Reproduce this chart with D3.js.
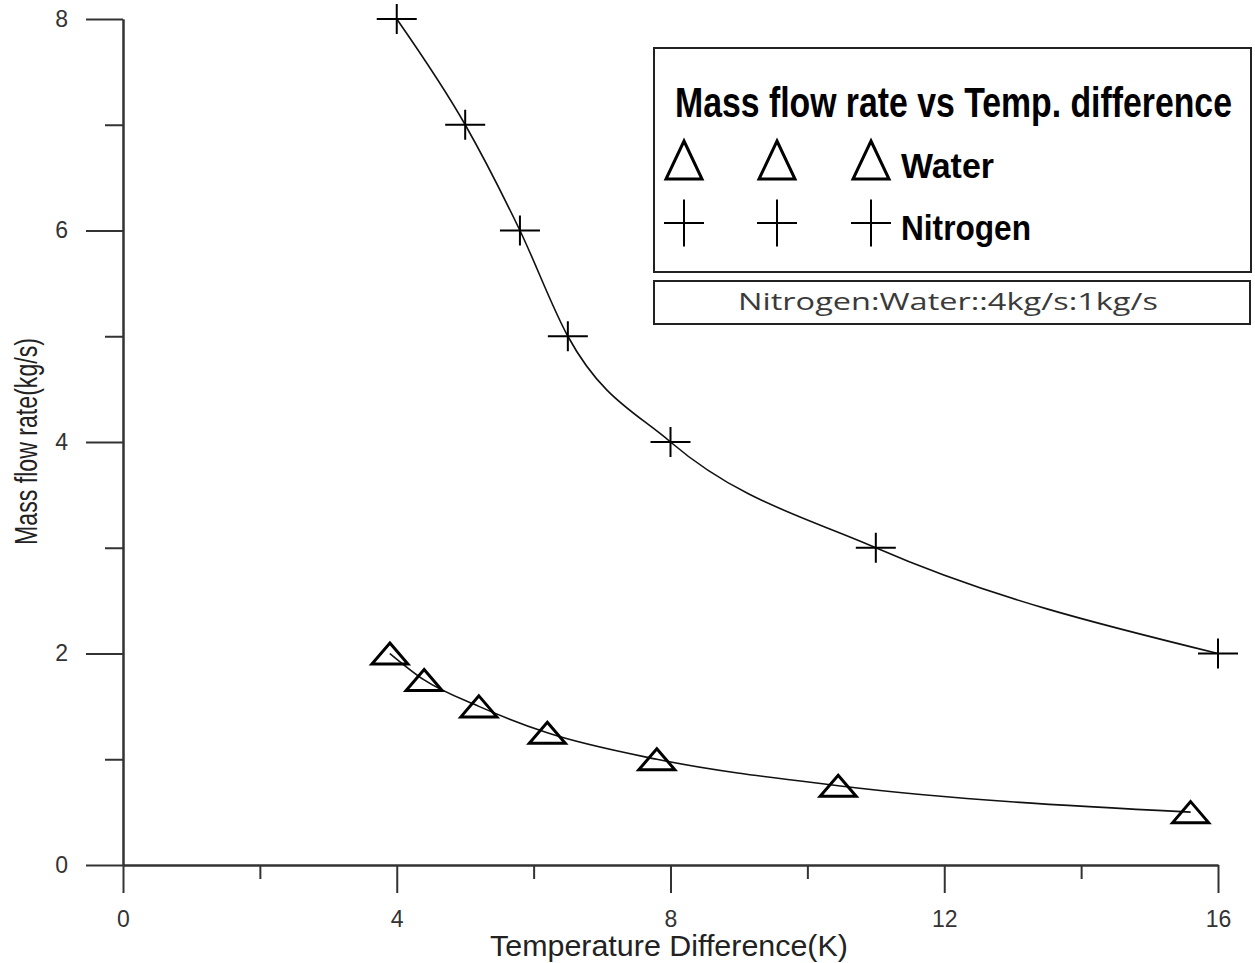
<!DOCTYPE html>
<html>
<head>
<meta charset="utf-8">
<script src="https://cdn.jsdelivr.net/npm/d3@7"></script>
<style>
  body { margin: 0; background: #fff; }
  svg { display: block; }
  .axis path, .axis line { stroke: #333; stroke-width: 2; }
  .axis text { font-family: "Liberation Sans", Arial, sans-serif; font-size: 23px; fill: #333; }
</style>
</head>
<body>
<div id="chart"></div>
<script>
// data
const waterX = [3.9, 4.4, 5.2, 6.2, 7.8, 10.45, 15.6];
const waterY = [2.0, 1.75, 1.5, 1.25, 1.0, 0.75, 0.5];
const nitrogenX = [4, 5, 5.8, 6.5, 8, 11, 16];
const nitrogenY = [8, 7, 6, 5, 4, 3, 2];
const xMajor = [0, 4, 8, 12, 16];
const xMinor = [2, 6, 10, 14];
const yMajor = [0, 2, 4, 6, 8];
const yMinor = [1, 3, 5, 7];
const legendTitle = "Mass flow rate vs Temp. difference";
const seriesNames = ["Water", "Nitrogen"];
const ratioNote = "Nitrogen:Water::4kg/s:1kg/s";

const W = 1255, H = 963;
const svg = d3.select("#chart").append("svg")
    .attr("width", W)
    .attr("height", H);

const x = d3.scaleLinear().domain([0, 16]).range([123, 1218]);
const y = d3.scaleLinear().domain([0, 8]).range([865, 19]);

// squeeze a text to a given width with a horizontal scale
function fitText(sel, x0, y0, width) {
  const w = sel.node().getComputedTextLength();
  sel.attr("transform", `translate(${x0},${y0}) scale(${width / w},1)`);
  return sel;
}

// axes
svg.append("g")
    .attr("class", "axis")
    .attr("transform", "translate(0,865)")
    .call(d3.axisBottom(x).tickValues(xMinor).tickSize(14).tickSizeOuter(0).tickFormat(""));
svg.append("g")
    .attr("class", "axis")
    .attr("transform", "translate(0,865)")
    .call(d3.axisBottom(x).tickValues(xMajor).tickSize(28).tickSizeOuter(0).tickPadding(18));

svg.append("g")
    .attr("class", "axis")
    .attr("transform", "translate(123,0)")
    .call(d3.axisLeft(y).tickValues(yMinor).tickSize(18).tickSizeOuter(0).tickFormat(""));
svg.append("g")
    .attr("class", "axis")
    .attr("transform", "translate(123,0)")
    .call(d3.axisLeft(y).tickValues(yMajor).tickSize(37).tickSizeOuter(0).tickPadding(18));

// axis titles
const xTitle = svg.append("text")
    .style("font-family", "Liberation Sans, Arial, sans-serif")
    .style("font-size", "29px")
    .style("fill", "#222")
    .text("Temperature Difference(K)");
fitText(xTitle, 490, 956, 358);

svg.append("text")
    .attr("transform", "translate(37,545) rotate(-90)")
    .attr("textLength", 207)
    .attr("lengthAdjust", "spacingAndGlyphs")
    .style("font-family", "Liberation Sans, Arial, sans-serif")
    .style("font-size", "31px")
    .style("fill", "#222")
    .text("Mass flow rate(kg/s)");

// curves
const water = waterX.map((v, i) => ({x: v, y: waterY[i]}));
const nitrogen = nitrogenX.map((v, i) => ({x: v, y: nitrogenY[i]}));

const line = d3.line()
    .x(d => x(d.x))
    .y(d => y(d.y))
    .curve(d3.curveMonotoneX);

[water, nitrogen].forEach(s => {
  svg.append("path")
      .datum(s)
      .attr("d", line)
      .attr("fill", "none")
      .attr("stroke", "#111")
      .attr("stroke-width", 1.6);
});

// markers
const triPath = (w, h) => `M0,${-h / 2}L${w / 2},${h / 2}L${-w / 2},${h / 2}Z`;
const crossPath = (w, h) => `M${-w / 2},0H${w / 2}M0,${-h / 2}V${h / 2}`;

svg.selectAll("path.tri")
    .data(water)
    .join("path")
    .attr("class", "tri")
    .attr("transform", d => `translate(${x(d.x)},${y(d.y)})`)
    .attr("d", triPath(36, 21))
    .attr("fill", "none")
    .attr("stroke", "#000")
    .attr("stroke-width", 3)
    .attr("stroke-linejoin", "miter");

svg.selectAll("path.cross")
    .data(nitrogen)
    .join("path")
    .attr("class", "cross")
    .attr("transform", d => `translate(${x(d.x)},${y(d.y)})`)
    .attr("d", crossPath(40, 30))
    .attr("fill", "none")
    .attr("stroke", "#000")
    .attr("stroke-width", 2);

// legend
const legend = svg.append("g");
legend.append("rect")
    .attr("x", 654).attr("y", 48)
    .attr("width", 597).attr("height", 224)
    .attr("fill", "#fff").attr("stroke", "#222").attr("stroke-width", 2);

const title = legend.append("text")
    .style("font-family", "Liberation Sans Narrow, Arial Narrow, Liberation Sans, sans-serif")
    .style("font-weight", "bold")
    .style("font-size", "42px")
    .text(legendTitle);
fitText(title, 675, 117, 557);

const symX = [684, 777, 871];
symX.forEach(cx => {
  legend.append("path")
      .attr("transform", `translate(${cx},160)`)
      .attr("d", triPath(36, 38))
      .attr("fill", "none").attr("stroke", "#000").attr("stroke-width", 3);
  legend.append("path")
      .attr("transform", `translate(${cx},223)`)
      .attr("d", crossPath(40, 47))
      .attr("fill", "none").attr("stroke", "#000").attr("stroke-width", 2);
});

const nameLen = [93, 130];
seriesNames.forEach((n, i) => {
  const t = legend.append("text")
      .style("font-family", "Liberation Sans Narrow, Arial Narrow, Liberation Sans, sans-serif")
      .style("font-weight", "bold")
      .style("font-size", "35px")
      .text(n);
  fitText(t, 901, 178 + i * 62, nameLen[i]);
});

legend.append("rect")
    .attr("x", 654).attr("y", 281)
    .attr("width", 596).attr("height", 43)
    .attr("fill", "#fff").attr("stroke", "#222").attr("stroke-width", 2);

const note = legend.append("text")
    .style("font-family", "Open Sans, Noto Sans, sans-serif")
    .style("font-size", "24px")
    .style("fill", "#3a3a3a")
    .text(ratioNote);
fitText(note, 738, 310, 420);
</script>
</body>
</html>
